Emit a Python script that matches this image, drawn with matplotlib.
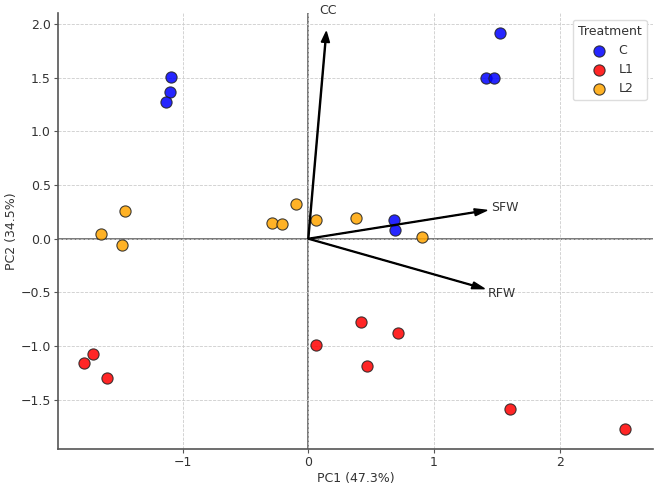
import numpy as np
import matplotlib
matplotlib.use('Agg')
import matplotlib.pyplot as plt

# PCA scores per treatment
c_x = [-1.09, -1.10, -1.13, 1.52, 1.41, 1.48, 0.68, 0.69]
c_y = [1.51, 1.37, 1.27, 1.92, 1.50, 1.50, 0.17, 0.085]
l1_x = [-1.71, -1.78, -1.60, 0.06, 0.42, 0.71, 0.47, 1.60, 2.52]
l1_y = [-1.07, -1.16, -1.30, -0.99, -0.775, -0.88, -1.19, -1.59, -1.77]
l2_x = [-1.46, -1.65, -1.48, -0.29, -0.21, -0.10, 0.065, 0.38, 0.90]
l2_y = [0.26, 0.047, -0.056, 0.15, 0.14, 0.32, 0.17, 0.19, 0.02]

# loading vectors
var_names = ['CC', 'SFW', 'RFW']
load_x = [0.143, 1.42, 1.40]
load_y = [1.93, 0.265, -0.466]

text_col = '#333333'
plt.rcParams['font.family'] = 'DejaVu Sans'
plt.rcParams['text.color'] = text_col
plt.rcParams['axes.labelcolor'] = text_col
plt.rcParams['xtick.color'] = '#555555'
plt.rcParams['ytick.color'] = '#555555'
plt.rcParams['xtick.labelcolor'] = text_col
plt.rcParams['ytick.labelcolor'] = text_col

fig = plt.figure(figsize=(6.56, 4.84), dpi=100)
ax = fig.add_axes([0.0884, 0.0723, 0.907, 0.9])

ax.grid(True, linestyle='--', color='#cccccc', linewidth=0.6, zorder=0)
ax.axhline(0, color='#555555', linewidth=1.1, zorder=1)
ax.axvline(0, color='#555555', linewidth=1.1, zorder=1)

groups = [('C', c_x, c_y, 'blue'), ('L1', l1_x, l1_y, 'red'), ('L2', l2_x, l2_y, 'orange')]
for name, xs, ys, col in groups:
    ax.scatter(xs, ys, s=65, color=col, alpha=0.85, edgecolor='#222222',
               linewidth=0.8, label=name, zorder=3)

for name, lx, ly in zip(var_names, load_x, load_y):
    ax.arrow(0, 0, lx, ly, color='black', width=0.008, head_width=0.065,
             head_length=0.1, length_includes_head=True, zorder=4)
    ax.text(lx * 1.1, ly * 1.1, name, ha='center', va='center', fontsize=9,
            color=text_col)

ax.set_xlim(-1.99, 2.74)
ax.set_ylim(-1.96, 2.1)
ax.set_xticks([-1, 0, 1, 2])
ax.set_yticks([-1.5, -1.0, -0.5, 0.0, 0.5, 1.0, 1.5, 2.0])
ax.tick_params(labelsize=9, length=3, pad=2)
ax.set_xlabel('PC1 (47.3%)', fontsize=9, labelpad=2)
ax.set_ylabel('PC2 (34.5%)', fontsize=9, labelpad=2)

for side in ['top', 'right']:
    ax.spines[side].set_visible(False)
for side in ['left', 'bottom']:
    ax.spines[side].set_color('#555555')
    ax.spines[side].set_linewidth(1.2)

ax.legend(title='Treatment', loc='upper right', fontsize=9, title_fontsize=9,
          framealpha=1, edgecolor='#dddddd', handletextpad=0.6)

fig.savefig('out.png', dpi=100)
